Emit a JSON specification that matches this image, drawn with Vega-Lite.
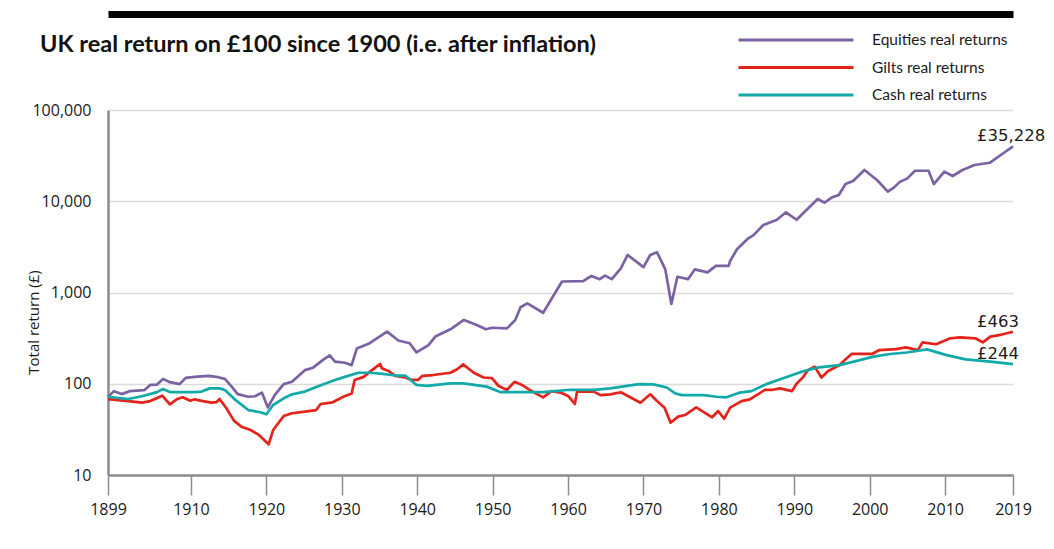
{
  "$schema": "https://vega.github.io/schema/vega-lite/v6.json",
  "width": 905,
  "height": 365,
  "autosize": {"type": "none"},
  "padding": {"left": 108, "top": 110, "right": 41, "bottom": 74},
  "background": "white",
  "title": {
    "text": "UK real return on £100 since 1900 (i.e. after inflation)",
    "anchor": "start",
    "frame": "group",
    "dx": -68,
    "dy": 46,
    "font": "Lato",
    "fontSize": 23.5,
    "fontWeight": "bold",
    "color": "#111111"
  },
  "config": {"view": {"stroke": null}, "font": "Open Sans"},
  "datasets": {
    "returns": [
      {"series": "Equities real returns", "year": 1899, "value": 72},
      {"series": "Equities real returns", "year": 1899.8, "value": 83},
      {"series": "Equities real returns", "year": 1900.8, "value": 77},
      {"series": "Equities real returns", "year": 1901.9, "value": 83},
      {"series": "Equities real returns", "year": 1903.8, "value": 85},
      {"series": "Equities real returns", "year": 1904.6, "value": 97},
      {"series": "Equities real returns", "year": 1905.5, "value": 98},
      {"series": "Equities real returns", "year": 1906.3, "value": 113},
      {"series": "Equities real returns", "year": 1907.2, "value": 104},
      {"series": "Equities real returns", "year": 1908.5, "value": 99},
      {"series": "Equities real returns", "year": 1909.3, "value": 116},
      {"series": "Equities real returns", "year": 1910.5, "value": 119},
      {"series": "Equities real returns", "year": 1912.3, "value": 122},
      {"series": "Equities real returns", "year": 1913.6, "value": 118},
      {"series": "Equities real returns", "year": 1914.5, "value": 113},
      {"series": "Equities real returns", "year": 1915.4, "value": 93},
      {"series": "Equities real returns", "year": 1916.2, "value": 77},
      {"series": "Equities real returns", "year": 1917.6, "value": 72},
      {"series": "Equities real returns", "year": 1918.5, "value": 73},
      {"series": "Equities real returns", "year": 1919.4, "value": 80},
      {"series": "Equities real returns", "year": 1920.2, "value": 55},
      {"series": "Equities real returns", "year": 1921.1, "value": 75},
      {"series": "Equities real returns", "year": 1922.3, "value": 99},
      {"series": "Equities real returns", "year": 1923.4, "value": 105},
      {"series": "Equities real returns", "year": 1925.1, "value": 141},
      {"series": "Equities real returns", "year": 1926.2, "value": 150},
      {"series": "Equities real returns", "year": 1927.6, "value": 185},
      {"series": "Equities real returns", "year": 1928.4, "value": 205},
      {"series": "Equities real returns", "year": 1929.1, "value": 175},
      {"series": "Equities real returns", "year": 1930.4, "value": 170},
      {"series": "Equities real returns", "year": 1931.3, "value": 160},
      {"series": "Equities real returns", "year": 1932, "value": 244},
      {"series": "Equities real returns", "year": 1933.7, "value": 278},
      {"series": "Equities real returns", "year": 1936, "value": 372},
      {"series": "Equities real returns", "year": 1937.5, "value": 298},
      {"series": "Equities real returns", "year": 1939, "value": 278},
      {"series": "Equities real returns", "year": 1939.9, "value": 221},
      {"series": "Equities real returns", "year": 1941.5, "value": 265},
      {"series": "Equities real returns", "year": 1942.4, "value": 329},
      {"series": "Equities real returns", "year": 1944.4, "value": 395},
      {"series": "Equities real returns", "year": 1946.2, "value": 500},
      {"series": "Equities real returns", "year": 1947.9, "value": 440},
      {"series": "Equities real returns", "year": 1949.1, "value": 395},
      {"series": "Equities real returns", "year": 1949.9, "value": 411},
      {"series": "Equities real returns", "year": 1951.9, "value": 404},
      {"series": "Equities real returns", "year": 1953, "value": 500},
      {"series": "Equities real returns", "year": 1953.7, "value": 689},
      {"series": "Equities real returns", "year": 1954.6, "value": 760},
      {"series": "Equities real returns", "year": 1956.7, "value": 600},
      {"series": "Equities real returns", "year": 1959.2, "value": 1320},
      {"series": "Equities real returns", "year": 1962, "value": 1330},
      {"series": "Equities real returns", "year": 1963.1, "value": 1517},
      {"series": "Equities real returns", "year": 1964.2, "value": 1400},
      {"series": "Equities real returns", "year": 1964.9, "value": 1530},
      {"series": "Equities real returns", "year": 1965.8, "value": 1400},
      {"series": "Equities real returns", "year": 1967, "value": 1842},
      {"series": "Equities real returns", "year": 1967.9, "value": 2578},
      {"series": "Equities real returns", "year": 1970, "value": 1900},
      {"series": "Equities real returns", "year": 1970.9, "value": 2578},
      {"series": "Equities real returns", "year": 1971.8, "value": 2755},
      {"series": "Equities real returns", "year": 1972.9, "value": 1790},
      {"series": "Equities real returns", "year": 1973.7, "value": 748},
      {"series": "Equities real returns", "year": 1974.5, "value": 1490},
      {"series": "Equities real returns", "year": 1975.9, "value": 1400},
      {"series": "Equities real returns", "year": 1976.8, "value": 1790},
      {"series": "Equities real returns", "year": 1978.5, "value": 1660},
      {"series": "Equities real returns", "year": 1979.6, "value": 1960},
      {"series": "Equities real returns", "year": 1981.3, "value": 1960},
      {"series": "Equities real returns", "year": 1981.5, "value": 2220},
      {"series": "Equities real returns", "year": 1982.4, "value": 2975},
      {"series": "Equities real returns", "year": 1983.9, "value": 3927},
      {"series": "Equities real returns", "year": 1984.6, "value": 4250},
      {"series": "Equities real returns", "year": 1985.9, "value": 5495},
      {"series": "Equities real returns", "year": 1987.7, "value": 6270},
      {"series": "Equities real returns", "year": 1988.9, "value": 7570},
      {"series": "Equities real returns", "year": 1990.3, "value": 6270},
      {"series": "Equities real returns", "year": 1993.1, "value": 10590},
      {"series": "Equities real returns", "year": 1994, "value": 9650},
      {"series": "Equities real returns", "year": 1995, "value": 11030},
      {"series": "Equities real returns", "year": 1995.9, "value": 11700},
      {"series": "Equities real returns", "year": 1996.8, "value": 15450},
      {"series": "Equities real returns", "year": 1997.8, "value": 16700},
      {"series": "Equities real returns", "year": 1999.3, "value": 21990},
      {"series": "Equities real returns", "year": 2001, "value": 17000},
      {"series": "Equities real returns", "year": 2002.4, "value": 12740},
      {"series": "Equities real returns", "year": 2003.2, "value": 14100},
      {"series": "Equities real returns", "year": 2004, "value": 16300},
      {"series": "Equities real returns", "year": 2005, "value": 17800},
      {"series": "Equities real returns", "year": 2006, "value": 21600},
      {"series": "Equities real returns", "year": 2007.8, "value": 21600},
      {"series": "Equities real returns", "year": 2008.5, "value": 15450},
      {"series": "Equities real returns", "year": 2009.9, "value": 21100},
      {"series": "Equities real returns", "year": 2011, "value": 18900},
      {"series": "Equities real returns", "year": 2012.3, "value": 22000},
      {"series": "Equities real returns", "year": 2013.9, "value": 24950},
      {"series": "Equities real returns", "year": 2015.9, "value": 26400},
      {"series": "Equities real returns", "year": 2017.8, "value": 34000},
      {"series": "Equities real returns", "year": 2019, "value": 40000},

      {"series": "Gilts real returns", "year": 1899, "value": 68},
      {"series": "Gilts real returns", "year": 1901.7, "value": 64.6},
      {"series": "Gilts real returns", "year": 1903.5, "value": 62},
      {"series": "Gilts real returns", "year": 1904.6, "value": 64.6},
      {"series": "Gilts real returns", "year": 1906.2, "value": 74},
      {"series": "Gilts real returns", "year": 1907.2, "value": 59.5},
      {"series": "Gilts real returns", "year": 1908.1, "value": 67.5},
      {"series": "Gilts real returns", "year": 1908.9, "value": 71},
      {"series": "Gilts real returns", "year": 1909.9, "value": 65},
      {"series": "Gilts real returns", "year": 1910.5, "value": 67.5},
      {"series": "Gilts real returns", "year": 1911.4, "value": 65},
      {"series": "Gilts real returns", "year": 1912.7, "value": 62},
      {"series": "Gilts real returns", "year": 1913.4, "value": 63},
      {"series": "Gilts real returns", "year": 1913.8, "value": 68},
      {"series": "Gilts real returns", "year": 1914.7, "value": 53.8},
      {"series": "Gilts real returns", "year": 1915.7, "value": 39.4},
      {"series": "Gilts real returns", "year": 1916.7, "value": 33.8},
      {"series": "Gilts real returns", "year": 1917.9, "value": 31.1},
      {"series": "Gilts real returns", "year": 1918.9, "value": 27.9},
      {"series": "Gilts real returns", "year": 1920.3, "value": 21.7},
      {"series": "Gilts real returns", "year": 1920.9, "value": 31.1},
      {"series": "Gilts real returns", "year": 1922.3, "value": 44.3},
      {"series": "Gilts real returns", "year": 1923.4, "value": 47.5},
      {"series": "Gilts real returns", "year": 1925.1, "value": 49.4},
      {"series": "Gilts real returns", "year": 1926.6, "value": 51.5},
      {"series": "Gilts real returns", "year": 1927.2, "value": 60},
      {"series": "Gilts real returns", "year": 1928.8, "value": 62.6},
      {"series": "Gilts real returns", "year": 1930.2, "value": 72},
      {"series": "Gilts real returns", "year": 1931.3, "value": 78},
      {"series": "Gilts real returns", "year": 1931.7, "value": 110},
      {"series": "Gilts real returns", "year": 1932.9, "value": 119},
      {"series": "Gilts real returns", "year": 1934, "value": 141},
      {"series": "Gilts real returns", "year": 1935.1, "value": 165},
      {"series": "Gilts real returns", "year": 1935.3, "value": 148},
      {"series": "Gilts real returns", "year": 1936.2, "value": 138},
      {"series": "Gilts real returns", "year": 1937.1, "value": 122},
      {"series": "Gilts real returns", "year": 1938.4, "value": 117},
      {"series": "Gilts real returns", "year": 1939.3, "value": 110},
      {"series": "Gilts real returns", "year": 1940.1, "value": 110},
      {"series": "Gilts real returns", "year": 1940.7, "value": 122},
      {"series": "Gilts real returns", "year": 1942.1, "value": 124.6},
      {"series": "Gilts real returns", "year": 1944.4, "value": 132},
      {"series": "Gilts real returns", "year": 1945.3, "value": 144},
      {"series": "Gilts real returns", "year": 1946.1, "value": 163},
      {"series": "Gilts real returns", "year": 1947.5, "value": 132},
      {"series": "Gilts real returns", "year": 1948.8, "value": 117},
      {"series": "Gilts real returns", "year": 1949.9, "value": 115},
      {"series": "Gilts real returns", "year": 1950.8, "value": 94.5},
      {"series": "Gilts real returns", "year": 1951.9, "value": 85.5},
      {"series": "Gilts real returns", "year": 1952.9, "value": 105},
      {"series": "Gilts real returns", "year": 1953.9, "value": 97},
      {"series": "Gilts real returns", "year": 1954.9, "value": 85.5},
      {"series": "Gilts real returns", "year": 1956.7, "value": 71},
      {"series": "Gilts real returns", "year": 1957.8, "value": 83},
      {"series": "Gilts real returns", "year": 1959, "value": 80},
      {"series": "Gilts real returns", "year": 1960, "value": 73.5},
      {"series": "Gilts real returns", "year": 1960.9, "value": 60},
      {"series": "Gilts real returns", "year": 1961.2, "value": 82},
      {"series": "Gilts real returns", "year": 1963.4, "value": 82},
      {"series": "Gilts real returns", "year": 1964.3, "value": 75},
      {"series": "Gilts real returns", "year": 1965.6, "value": 76.6},
      {"series": "Gilts real returns", "year": 1967, "value": 80.6},
      {"series": "Gilts real returns", "year": 1969.6, "value": 62},
      {"series": "Gilts real returns", "year": 1970.9, "value": 76.6},
      {"series": "Gilts real returns", "year": 1971.8, "value": 64.6},
      {"series": "Gilts real returns", "year": 1972.8, "value": 54.7},
      {"series": "Gilts real returns", "year": 1973.6, "value": 37.4},
      {"series": "Gilts real returns", "year": 1974.6, "value": 43.6},
      {"series": "Gilts real returns", "year": 1975.5, "value": 45.4},
      {"series": "Gilts real returns", "year": 1977, "value": 55},
      {"series": "Gilts real returns", "year": 1979.1, "value": 42.9},
      {"series": "Gilts real returns", "year": 1979.9, "value": 50.2},
      {"series": "Gilts real returns", "year": 1980.7, "value": 41.4},
      {"series": "Gilts real returns", "year": 1981.5, "value": 54.7},
      {"series": "Gilts real returns", "year": 1983, "value": 64.6},
      {"series": "Gilts real returns", "year": 1984.1, "value": 67.5},
      {"series": "Gilts real returns", "year": 1986.1, "value": 85.5},
      {"series": "Gilts real returns", "year": 1987, "value": 85.5},
      {"series": "Gilts real returns", "year": 1988.1, "value": 89},
      {"series": "Gilts real returns", "year": 1989.7, "value": 83},
      {"series": "Gilts real returns", "year": 1990.3, "value": 100},
      {"series": "Gilts real returns", "year": 1991.2, "value": 119},
      {"series": "Gilts real returns", "year": 1991.8, "value": 141},
      {"series": "Gilts real returns", "year": 1992.7, "value": 154},
      {"series": "Gilts real returns", "year": 1993.6, "value": 117},
      {"series": "Gilts real returns", "year": 1994.5, "value": 138},
      {"series": "Gilts real returns", "year": 1996, "value": 160},
      {"series": "Gilts real returns", "year": 1996.7, "value": 182},
      {"series": "Gilts real returns", "year": 1997.6, "value": 212},
      {"series": "Gilts real returns", "year": 2000.3, "value": 212},
      {"series": "Gilts real returns", "year": 2001.3, "value": 234},
      {"series": "Gilts real returns", "year": 2003.5, "value": 240},
      {"series": "Gilts real returns", "year": 2004.8, "value": 250},
      {"series": "Gilts real returns", "year": 2006.4, "value": 234},
      {"series": "Gilts real returns", "year": 2007, "value": 284},
      {"series": "Gilts real returns", "year": 2008.8, "value": 271},
      {"series": "Gilts real returns", "year": 2010.7, "value": 315},
      {"series": "Gilts real returns", "year": 2012, "value": 323},
      {"series": "Gilts real returns", "year": 2014, "value": 315},
      {"series": "Gilts real returns", "year": 2015, "value": 284},
      {"series": "Gilts real returns", "year": 2016, "value": 328},
      {"series": "Gilts real returns", "year": 2017.5, "value": 346},
      {"series": "Gilts real returns", "year": 2019, "value": 372},

      {"series": "Cash real returns", "year": 1899, "value": 72},
      {"series": "Cash real returns", "year": 1901.7, "value": 68},
      {"series": "Cash real returns", "year": 1903.5, "value": 73},
      {"series": "Cash real returns", "year": 1905.5, "value": 81},
      {"series": "Cash real returns", "year": 1906.3, "value": 87.5},
      {"series": "Cash real returns", "year": 1907.2, "value": 81},
      {"series": "Cash real returns", "year": 1910.5, "value": 81},
      {"series": "Cash real returns", "year": 1911.4, "value": 82},
      {"series": "Cash real returns", "year": 1912.5, "value": 89},
      {"series": "Cash real returns", "year": 1913.8, "value": 89},
      {"series": "Cash real returns", "year": 1914.5, "value": 85.5},
      {"series": "Cash real returns", "year": 1915.8, "value": 67.5},
      {"series": "Cash real returns", "year": 1917.6, "value": 51.5},
      {"series": "Cash real returns", "year": 1919.2, "value": 48.7},
      {"series": "Cash real returns", "year": 1920, "value": 46.3},
      {"series": "Cash real returns", "year": 1920.9, "value": 58.5},
      {"series": "Cash real returns", "year": 1922.3, "value": 69.3},
      {"series": "Cash real returns", "year": 1923.4, "value": 76.6},
      {"series": "Cash real returns", "year": 1925.1, "value": 82},
      {"series": "Cash real returns", "year": 1927.3, "value": 97},
      {"series": "Cash real returns", "year": 1929.1, "value": 110},
      {"series": "Cash real returns", "year": 1930.4, "value": 119},
      {"series": "Cash real returns", "year": 1932.2, "value": 132},
      {"series": "Cash real returns", "year": 1933.7, "value": 132},
      {"series": "Cash real returns", "year": 1935.5, "value": 128},
      {"series": "Cash real returns", "year": 1937.3, "value": 123},
      {"series": "Cash real returns", "year": 1938.4, "value": 123},
      {"series": "Cash real returns", "year": 1939, "value": 112},
      {"series": "Cash real returns", "year": 1939.9, "value": 97},
      {"series": "Cash real returns", "year": 1941.3, "value": 95},
      {"series": "Cash real returns", "year": 1944.4, "value": 101},
      {"series": "Cash real returns", "year": 1946.1, "value": 101},
      {"series": "Cash real returns", "year": 1949.2, "value": 93},
      {"series": "Cash real returns", "year": 1951, "value": 81},
      {"series": "Cash real returns", "year": 1956.7, "value": 81},
      {"series": "Cash real returns", "year": 1960.3, "value": 86},
      {"series": "Cash real returns", "year": 1963.4, "value": 85.5},
      {"series": "Cash real returns", "year": 1965.6, "value": 89},
      {"series": "Cash real returns", "year": 1969.4, "value": 99},
      {"series": "Cash real returns", "year": 1971.3, "value": 98.5},
      {"series": "Cash real returns", "year": 1973.1, "value": 91},
      {"series": "Cash real returns", "year": 1974.2, "value": 78.5},
      {"series": "Cash real returns", "year": 1975.1, "value": 75},
      {"series": "Cash real returns", "year": 1978, "value": 75},
      {"series": "Cash real returns", "year": 1979.7, "value": 72},
      {"series": "Cash real returns", "year": 1981, "value": 71},
      {"series": "Cash real returns", "year": 1982.8, "value": 80},
      {"series": "Cash real returns", "year": 1984.3, "value": 83},
      {"series": "Cash real returns", "year": 1986.3, "value": 99},
      {"series": "Cash real returns", "year": 1988.8, "value": 117},
      {"series": "Cash real returns", "year": 1990.8, "value": 134},
      {"series": "Cash real returns", "year": 1993, "value": 150},
      {"series": "Cash real returns", "year": 1996, "value": 160},
      {"series": "Cash real returns", "year": 1998.3, "value": 178},
      {"series": "Cash real returns", "year": 2000.5, "value": 198},
      {"series": "Cash real returns", "year": 2002.7, "value": 212},
      {"series": "Cash real returns", "year": 2004.9, "value": 220},
      {"series": "Cash real returns", "year": 2007.6, "value": 238},
      {"series": "Cash real returns", "year": 2010.2, "value": 206},
      {"series": "Cash real returns", "year": 2012.7, "value": 185},
      {"series": "Cash real returns", "year": 2016, "value": 175},
      {"series": "Cash real returns", "year": 2019, "value": 164}
    ],
    "endLabels": [
      {"year": 2019, "value": 40000, "label": "£35,228"},
      {"year": 2019, "value": 372, "label": "£463"},
      {"year": 2019, "value": 164, "label": "£244"}
    ]
  },
  "layer": [
    {
      "data": {"name": "returns"},
      "mark": {"type": "line", "strokeWidth": 2.7, "strokeJoin": "round"},
      "encoding": {
        "x": {
          "field": "year",
          "type": "quantitative",
          "scale": {"domain": [1899, 2019], "nice": false, "zero": false},
          "axis": {
            "values": [1899, 1910, 1920, 1930, 1940, 1950, 1960, 1970, 1980, 1990, 2000, 2010, 2019],
            "format": "d",
            "title": null,
            "grid": false,
            "domainColor": "#8c8c8c",
            "domainWidth": 2.5,
            "tickColor": "#8c8c8c",
            "tickWidth": 1.5,
            "tickSize": 20,
            "labelFont": "Open Sans",
            "labelFontSize": 16,
            "labelColor": "#1a1a1a",
            "labelPadding": 6,
            "labelFlush": false,
            "labelOverlap": false
          }
        },
        "y": {
          "field": "value",
          "type": "quantitative",
          "scale": {"type": "log", "domain": [10, 100000], "nice": false},
          "axis": {
            "values": [10, 100, 1000, 10000, 100000],
            "format": ",d",
            "title": "Total return (£)",
            "grid": true,
            "gridColor": "#dcdcdc",
            "gridWidth": 1.5,
            "ticks": false,
            "domainColor": "#8c8c8c",
            "domainWidth": 2.5,
            "labelFont": "Open Sans",
            "labelFontSize": 16,
            "labelColor": "#1a1a1a",
            "labelPadding": 17,
            "titleFont": "Open Sans",
            "titleFontSize": 15,
            "titleFontWeight": "normal",
            "titleColor": "#1a1a1a",
            "titleX": -75,
            "titleY": 212,
            "titleAngle": -90,
            "titleAlign": "center",
            "titleBaseline": "middle"
          }
        },
        "color": {
          "field": "series",
          "type": "nominal",
          "scale": {
            "domain": ["Equities real returns", "Gilts real returns", "Cash real returns"],
            "range": ["#7b63a3", "#e4231b", "#12a9a9"]
          },
          "legend": {
            "orient": "none",
            "legendX": 629,
            "legendY": -80,
            "title": null,
            "symbolType": "stroke",
            "symbolSize": 13225,
            "symbolStrokeWidth": 3,
            "labelFont": "Lato",
            "labelFontSize": 15.5,
            "labelColor": "#1a1a1a",
            "labelOffset": 17,
            "clipHeight": 20,
            "rowPadding": 7.5
          }
        }
      }
    },
    {
      "data": {"name": "endLabels"},
      "mark": {
        "type": "text",
        "align": "left",
        "baseline": "middle",
        "dx": -36,
        "dy": -10,
        "font": "DejaVu Sans",
        "fontSize": 16.5,
        "color": "#1a1a1a"
      },
      "encoding": {
        "x": {
          "field": "year",
          "type": "quantitative",
          "axis": {
            "orient": "top",
            "offset": 96,
            "domainColor": "#000000",
            "domainWidth": 7,
            "labels": false,
            "ticks": false,
            "grid": false,
            "title": null
          }
        },
        "y": {"field": "value", "type": "quantitative"},
        "text": {"field": "label"}
      }
    }
  ],
  "resolve": {"axis": {"x": "independent"}}
}
